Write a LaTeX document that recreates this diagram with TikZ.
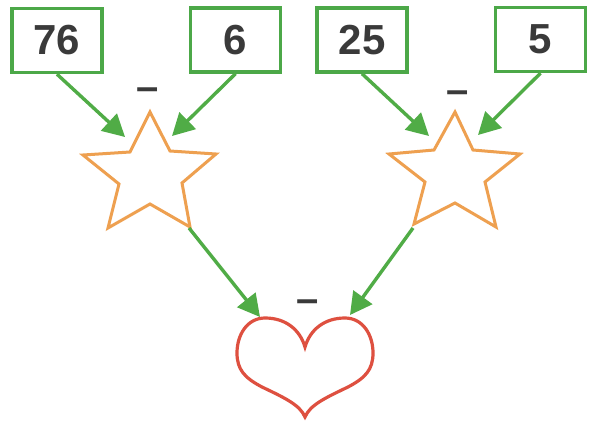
\documentclass[tikz,border=0pt]{standalone}
\usepackage{fontspec}
\setmainfont{Liberation Sans}
\usetikzlibrary{arrows.meta}
\definecolor{boxgreen}{RGB}{76,168,72}
\definecolor{arrgreen}{RGB}{80,172,70}
\definecolor{starorange}{RGB}{238,160,80}
\definecolor{heartred}{RGB}{222,80,64}
\definecolor{txtgray}{RGB}{58,58,58}
\tikzset{
  numbox/.style={draw=boxgreen, line width=3.4pt, fill=white, minimum width=90pt, minimum height=64pt, inner sep=0pt, text=txtgray, font=\fontsize{42}{42}\selectfont\bfseries},
  link/.style={draw=arrgreen, line width=3.4pt, -{Triangle[length=22pt,width=23pt]}},
  minus/.style={text=txtgray, font=\fontsize{40}{40}\selectfont\bfseries, inner sep=0pt},
  starline/.style={draw=starorange, line width=3pt, line join=miter},
  heartline/.style={draw=heartred, line width=3.2pt}
}
\begin{document}
\begin{tikzpicture}[x=1pt,y=-1pt]
\useasboundingbox (0,0) rectangle (596,420);
\fill[white] (0,0) rectangle (596,420);
% boxes
\node[numbox] (b76) at (57,40.5) {76};
\node[numbox] (b6) at (235.5,40) {6};
\node[numbox] (b25) at (362,40) {25};
\node[numbox] (b5) at (540.5,39.5) {5};
% star 1
\coordinate (s1in) at (125,137);
\coordinate (s1in2) at (172,136);
\coordinate (s1out) at (189,228);
\draw[starline] (150,112) -- (170,151) -- (216,154) -- (182,183) -- (190,227) -- (150,204) -- (108,228) -- (119,184) -- (83,155) -- (130,152) -- cycle;
% star 2
\coordinate (s2in) at (429,136);
\coordinate (s2in2) at (478,135);
\coordinate (s2out) at (413,228);
\draw[starline] (455,112) -- (473,150) -- (520,154) -- (485,182) -- (496,227) -- (455,203) -- (414,224) -- (425,182) -- (389,154) -- (434,150) -- cycle;
% heart
\coordinate (hl) at (260,317);
\coordinate (hr) at (350,315);
\draw[heartline] (305,347) .. controls (300,330) and (286,318) .. (265,318)
  .. controls (247,318) and (237,335) .. (237,353)
  .. controls (237,370) and (245,378) .. (262,387)
  .. controls (285,398) and (300,405) .. (305,417)
  .. controls (310,405) and (325,398) .. (348,387)
  .. controls (365,378) and (373,370) .. (373,353)
  .. controls (373,335) and (363,318) .. (345,318)
  .. controls (324,318) and (310,330) .. (305,347) -- cycle;
% minus signs
\node[minus] (m1) at (148,94) {–};
\node[minus] (m2) at (458,97) {–};
\node[minus] (m3) at (308,306) {–};
% arrows
\draw[link] (b76.south) -- (s1in);
\draw[link] (b6.south) -- (s1in2);
\draw[link] (b25.south) -- (s2in);
\draw[link] (b5.south) -- (s2in2);
\draw[link] (s1out) -- (hl);
\draw[link] (s2out) -- (hr);
\end{tikzpicture}
\end{document}
